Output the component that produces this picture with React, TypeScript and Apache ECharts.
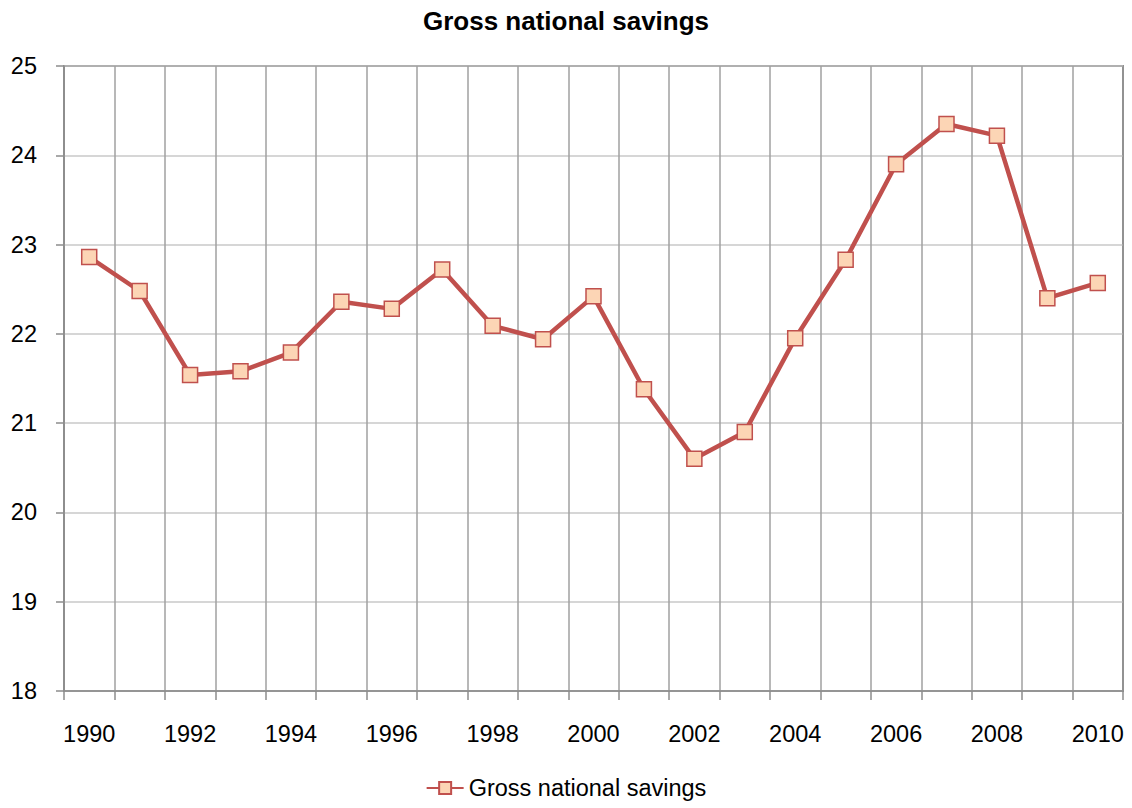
import React, { useEffect, useRef } from "react";
import * as echarts from "echarts";

const years = [
  "1990", "1991", "1992", "1993", "1994", "1995", "1996", "1997", "1998", "1999", "2000",
  "2001", "2002", "2003", "2004", "2005", "2006", "2007", "2008", "2009", "2010",
];
const savings = [
  22.86, 22.48, 21.54, 21.58, 21.79, 22.36, 22.28, 22.72, 22.09, 21.94, 22.42,
  21.38, 20.6, 20.9, 21.95, 22.83, 23.9, 24.35, 24.22, 22.4, 22.57,
];
const seriesName = "Gross national savings";
const titleText = "Gross national savings";
const yMin = 18;
const yMax = 25;
const yStep = 1;

const FONT = "'Liberation Sans', Arial, sans-serif";

export default function App() {
  const ref = useRef<HTMLDivElement>(null);
  useEffect(() => {
    document.body.style.margin = "0";
    const chart = echarts.init(ref.current!, null, { renderer: "svg" });
    chart.setOption({
      animation: false,
      backgroundColor: "#ffffff",
      textStyle: { fontFamily: FONT },
      title: {
        text: titleText,
        left: "center",
        top: 8,
        padding: 0,
        textStyle: { fontFamily: FONT, fontSize: 26, fontWeight: "bold", color: "#000" },
      },
      legend: {
        bottom: 3,
        left: "center",
        itemWidth: 37,
        itemHeight: 15,
        textStyle: { fontFamily: FONT, fontSize: 23.5, color: "#000" },
        data: [seriesName],
      },
      grid: {
        left: 64,
        top: 66,
        right: 9,
        bottom: 117,
        show: true,
        borderColor: "#3a3a3a",
        borderWidth: 1.5,
        backgroundColor: "transparent",
        containLabel: false,
      },
      xAxis: {
        type: "category",
        data: years,
        boundaryGap: true,
        axisLine: { show: true, lineStyle: { color: "#8c8c8c", width: 1.5 } },
        axisTick: { show: true, interval: 0, length: 9, lineStyle: { color: "#8c8c8c", width: 1.5 } },
        axisLabel: { interval: 1, margin: 31, fontSize: 23.5, color: "#000", fontFamily: FONT },
        splitLine: { show: true, interval: 0, lineStyle: { color: "#a0a0a0", width: 1.5 } },
      },
      yAxis: {
        type: "value",
        min: yMin,
        max: yMax,
        interval: yStep,
        axisLine: { show: true, lineStyle: { color: "#8c8c8c", width: 1.5 } },
        axisTick: { show: true, length: 8, lineStyle: { color: "#8c8c8c", width: 1.5 } },
        axisLabel: { margin: 27, fontSize: 23.5, color: "#000", fontFamily: FONT },
        splitLine: { show: true, lineStyle: { color: "#c8c8c8", width: 1.5 } },
      },
      series: [
        {
          name: seriesName,
          type: "line",
          data: savings,
          symbol: "rect",
          symbolSize: 15,
          lineStyle: { color: "#c0504d", width: 4.5 },
          itemStyle: { color: "#fcd5b5", borderColor: "#c0504d", borderWidth: 1.5 },
          z: 3,
        },
      ],
    });
    return () => chart.dispose();
  }, []);
  return <div ref={ref} style={{ width: 1132, height: 808 }} />;
}
